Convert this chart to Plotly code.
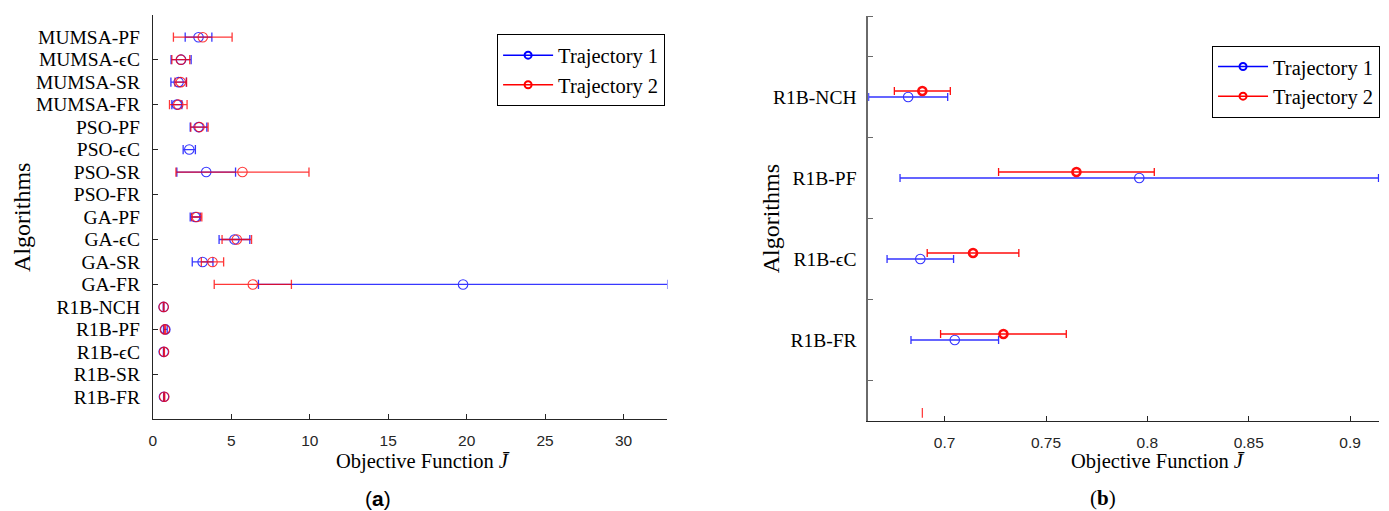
import plotly.graph_objects as go

# ---------------- data ----------------
categories = ["MUMSA-PF", "MUMSA-ϵC", "MUMSA-SR", "MUMSA-FR",
              "PSO-PF", "PSO-ϵC", "PSO-SR", "PSO-FR",
              "GA-PF", "GA-ϵC", "GA-SR", "GA-FR",
              "R1B-NCH", "R1B-PF", "R1B-ϵC", "R1B-SR", "R1B-FR"]
traj1_mean = [2.91, 1.80, 1.64, 1.53, 2.91, 2.32, 3.40, None, 2.70, 5.20, 3.17, 19.77,
              0.682, 0.796, 0.688, None, 0.705]
traj1_err = [0.85, 0.64, 0.49, 0.32, 0.53, 0.39, 1.87, None, 0.32, 0.98, 0.66, 13.04,
             0.0195, 0.118, 0.0164, None, 0.0216]
traj2_mean = [3.18, 1.78, 1.78, 1.62, 2.97, None, 5.71, None, 2.80, 5.35, 3.80, 6.37,
              0.689, 0.765, 0.714, None, 0.729]
traj2_err = [1.87, 0.57, 0.37, 0.56, 0.55, None, 4.24, None, 0.32, 0.94, 0.71, 2.46,
             0.0138, 0.0384, 0.0226, None, 0.031]

right_categories = ["R1B-NCH", "R1B-PF", "R1B-ϵC", "R1B-FR"]
right_stray_traj2 = [0.689]   # lone red cap near the bottom of panel (b)

left_xticks = [0, 5, 10, 15, 20, 25, 30]
right_xticks = [0.7, 0.75, 0.8, 0.85, 0.9]
series_names = ["Trajectory 1", "Trajectory 2"]

# ---------------- style ----------------
BLUE = "#0000ff"
RED = "#ff0000"
AX = "#262626"
SERIF = "Liberation Serif"
SANS = "Liberation Sans"
W, H = 1389, 511

left_pos = list(range(1, len(categories) + 1))
right_pos = list(range(1, len(right_categories) + 1))
idx = [categories.index(c) for c in right_categories]
r1m = [traj1_mean[i] for i in idx]
r1e = [traj1_err[i] for i in idx]
r2m = [traj2_mean[i] for i in idx]
r2e = [traj2_err[i] for i in idx]
red_shift = 0.074

fig = go.Figure()

# left panel
fig.add_trace(go.Scatter(
    x=traj1_mean, y=left_pos, mode="markers", xaxis="x", yaxis="y",
    marker=dict(symbol="circle-open", size=9.5, color=BLUE, line=dict(width=1.1, color=BLUE)),
    error_x=dict(type="data", array=traj1_err, color=BLUE, thickness=1.3, width=4.6),
    opacity=0.78, showlegend=False, cliponaxis=True))
fig.add_trace(go.Scatter(
    x=traj2_mean, y=left_pos, mode="markers", xaxis="x", yaxis="y",
    marker=dict(symbol="circle-open", size=9.5, color=RED, line=dict(width=1.1, color=RED)),
    error_x=dict(type="data", array=traj2_err, color=RED, thickness=1.3, width=4.6),
    opacity=0.78, showlegend=False, cliponaxis=True))
# dummy trace for tick overlay axis
fig.add_trace(go.Scatter(x=[None], y=[None], xaxis="x", yaxis="y3", showlegend=False,
                         hoverinfo="skip"))

# right panel
fig.add_trace(go.Scatter(
    x=r1m, y=right_pos, mode="markers", xaxis="x2", yaxis="y2",
    marker=dict(symbol="circle-open", size=9.5, color=BLUE, line=dict(width=1.1, color=BLUE)),
    error_x=dict(type="data", array=r1e, color=BLUE, thickness=1.3, width=4),
    opacity=0.8, showlegend=False, cliponaxis=True))
fig.add_trace(go.Scatter(
    x=r2m, y=[p - red_shift for p in right_pos], mode="markers", xaxis="x2", yaxis="y2",
    marker=dict(symbol="circle-open", size=8, color=RED, line=dict(width=2.6, color=RED)),
    error_x=dict(type="data", array=r2e, color=RED, thickness=1.3, width=4),
    opacity=0.95, showlegend=False, cliponaxis=True))
fig.add_trace(go.Scatter(
    x=right_stray_traj2, y=[len(right_categories) + 0.9] * len(right_stray_traj2),
    mode="markers", xaxis="x2", yaxis="y2",
    marker=dict(symbol="line-ns-open", size=7, color=RED, line=dict(width=1.2, color=RED)),
    opacity=0.8, showlegend=False))

# legend entries
for lg in ["legend", "legend2"]:
    for name, col in zip(series_names, [BLUE, RED]):
        fig.add_trace(go.Scatter(
            x=[None], y=[None], mode="lines+markers", name=name, legend=lg,
            xaxis="x" if lg == "legend" else "x2", yaxis="y" if lg == "legend" else "y2",
            line=dict(color=col, width=1.5),
            marker=dict(symbol="circle-open", size=7, color=col, line=dict(width=2, color=col))))

xdom_l = [149.3 / W, 665.4 / W]
xdom_r = [866.7 / W, 1379.3 / W]
ydom_l = [1 - 419.3 / H, 1 - 14.7 / H]
ydom_r = [1 - 421 / H, 1 - 16 / H]

xcommon = dict(showgrid=False, zeroline=False, showline=True, linecolor=AX, linewidth=1,
               ticks="inside", ticklen=5, tickcolor=AX, tickwidth=1,
               tickfont=dict(family=SANS, size=15.5, color=AX), ticklabelstandoff=7)

legend_common = dict(font=dict(family=SERIF, size=20.5, color="black"), bgcolor="white",
                     bordercolor="black", borderwidth=1, xanchor="right", yanchor="top",
                     tracegroupgap=0, itemwidth=50)

fig.update_layout(
    width=W, height=H, margin=dict(l=0, r=0, t=0, b=0),
    paper_bgcolor="white", plot_bgcolor="white",
    xaxis=dict(domain=xdom_l, anchor="y", range=[0, 32.8], tickvals=left_xticks, **xcommon),
    yaxis=dict(domain=ydom_l, anchor="x", range=[18, 0], tickmode="array",
               tickvals=left_pos, ticktext=categories, ticks="", showgrid=False,
               zeroline=False, showline=True, linecolor=AX, linewidth=1,
               tickfont=dict(family=SERIF, size=19.5, color="black"), ticklabelstandoff=8),
    yaxis3=dict(overlaying="y", anchor="x", range=[18, 0], tickmode="array",
                tickvals=list(range(0, 19, 2)), ticks="inside", ticklen=5, tickcolor=AX,
                showticklabels=False, showgrid=False, zeroline=False, showline=False,
                side="left"),
    xaxis2=dict(domain=xdom_r, anchor="y2", range=[0.6623, 0.9144], tickvals=right_xticks,
                **xcommon),
    yaxis2=dict(domain=ydom_r, anchor="x2", range=[5, 0], tickmode="array",
                tickvals=right_pos, ticktext=right_categories, ticks="", showgrid=False,
                zeroline=False, showline=True, linecolor="#6a6a6a", linewidth=1.5,
                tickfont=dict(family=SERIF, size=19.5, color="black"), ticklabelstandoff=6,
                minor=dict(tickvals=[0, 0.5, 1.5, 2.5, 3.5, 4.5], ticks="inside", ticklen=5,
                           tickcolor="#6a6a6a", tickwidth=1, showgrid=False)),
    legend=dict(x=663 / W, y=1 - 34.3 / H, **legend_common),
    legend2=dict(x=1380 / W, y=1 - 45.7 / H, **legend_common),
)

ann_font = dict(family=SERIF, size=20.5, color="black")
fig.add_annotation(text="Objective Function <i>J̄</i>", x=420 / W, y=1 - 461.7 / H,
                   xref="paper", yref="paper", showarrow=False, font=ann_font,
                   xanchor="center", yanchor="middle")
fig.add_annotation(text="Objective Function <i>J̄</i>", x=1157 / W, y=1 - 461.7 / H,
                   xref="paper", yref="paper", showarrow=False, font=ann_font,
                   xanchor="center", yanchor="middle")
fig.add_annotation(text="Algorithms", x=18 / W, y=1 - 217 / H, textangle=-90,
                   xref="paper", yref="paper", showarrow=False,
                   font=dict(family=SERIF, size=24, color="black"),
                   xanchor="center", yanchor="middle")
fig.add_annotation(text="Algorithms", x=769 / W, y=1 - 218.5 / H, textangle=-90,
                   xref="paper", yref="paper", showarrow=False,
                   font=dict(family=SERIF, size=24, color="black"),
                   xanchor="center", yanchor="middle")
fig.add_annotation(text="(<b>a</b>)", x=375 / W, y=1 - 498 / H, xref="paper", yref="paper",
                   showarrow=False, font=dict(family=SANS, size=21, color="black"),
                   xanchor="center", yanchor="middle")
fig.add_annotation(text="(<b>b</b>)", x=1102 / W, y=1 - 498 / H, xref="paper", yref="paper",
                   showarrow=False, font=dict(family=SERIF, size=21, color="black"),
                   xanchor="center", yanchor="middle")

fig.write_html("out.html", config={"displayModeBar": False},
               post_script="document.body.style.margin='0';"
               "document.body.style.overflow='hidden';")
